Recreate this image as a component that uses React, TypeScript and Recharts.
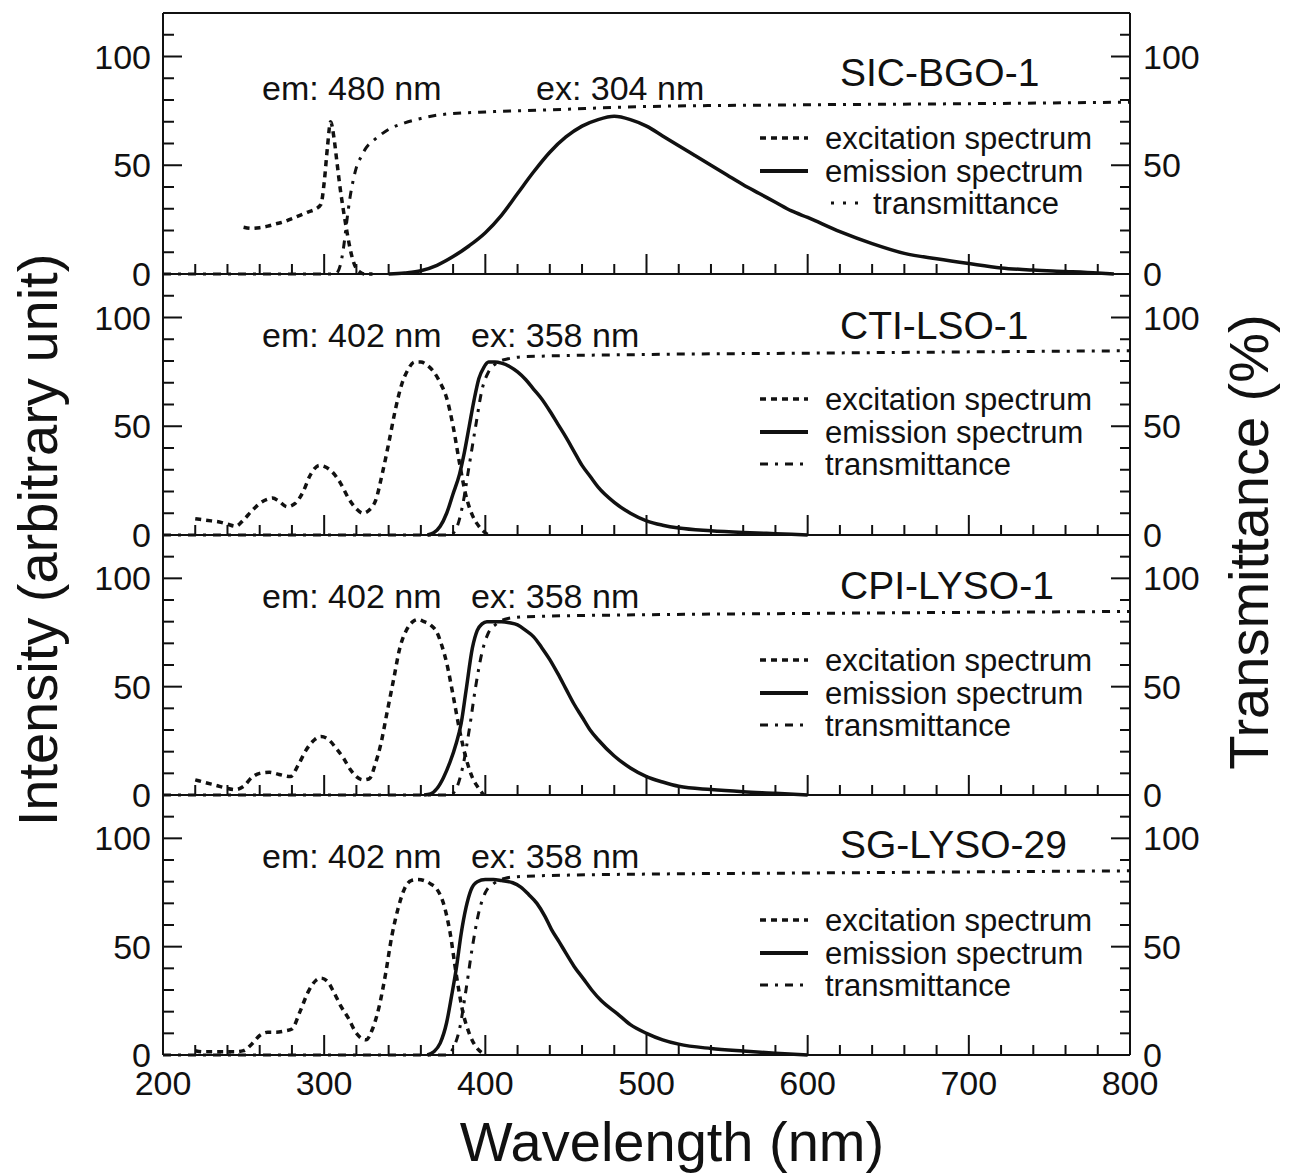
import React from "react";
import { LineChart, Line, XAxis, YAxis } from "recharts";

type Pair = [number, number];

// SIC-BGO-1
const bgoExcitation: Pair[] = [
  [250, 21.5], [255, 21], [260, 21.3], [265, 22], [270, 23], [275, 24], [280, 25.5], [285, 27],
  [290, 28.5], [295, 30], [298, 32], [300, 42], [302, 58], [304, 70], [306, 63], [308, 51],
  [310, 39], [312, 29], [314, 20], [316, 12], [318, 6], [320, 2.5], [322, 1], [325, 0], [330, 0],
];
const bgoEmission: Pair[] = [
  [340, 0], [350, 0.5], [360, 1.5], [370, 4], [380, 8], [390, 13], [400, 19], [410, 27], [420, 37],
  [430, 47], [440, 56], [450, 63], [460, 68], [470, 71], [480, 72.5], [490, 71], [500, 68],
  [510, 63.5], [520, 59], [530, 54.5], [540, 50], [550, 45.5], [560, 41], [570, 37], [580, 33],
  [590, 29], [600, 26], [620, 19.5], [640, 14], [660, 9.5], [680, 7], [700, 4.8], [720, 2.8],
  [740, 1.8], [760, 1.2], [780, 0.5], [790, 0],
];
const bgoTransmittance: Pair[] = [
  [200, 0], [307, 0], [310, 4], [312, 12], [314, 24], [316, 35], [318, 43], [320, 49], [323, 54],
  [326, 58], [330, 61], [335, 64], [340, 66.5], [350, 69.5], [360, 71.5], [370, 73], [385, 74],
  [400, 74.5], [440, 75.5], [500, 77], [600, 77.8], [700, 78.3], [800, 79],
];

// CTI-LSO-1
const ctiExcitation: Pair[] = [
  [220, 7.5], [225, 7], [230, 6.5], [235, 6], [240, 5], [245, 4], [250, 7], [255, 11], [260, 14.5],
  [265, 16.5], [268, 17], [272, 15.5], [277, 13], [282, 14.5], [287, 20], [291, 27], [294, 30.5],
  [297, 32], [300, 31.5], [305, 29], [310, 24], [315, 17], [320, 12], [324, 10], [328, 11.5],
  [332, 16], [336, 28], [340, 42], [344, 57], [348, 69], [352, 76], [356, 79.5], [360, 79.5],
  [364, 78], [368, 75], [372, 70], [376, 63], [380, 50], [384, 33], [388, 18], [392, 9], [396, 4],
  [400, 1], [402, 0],
];
const ctiEmission: Pair[] = [
  [364, 0], [368, 1], [372, 4], [376, 10], [380, 19], [384, 28], [387, 38], [390, 50], [393, 62],
  [396, 72], [399, 77], [402, 79.5], [406, 79.5], [410, 79], [415, 77.5], [420, 75], [425, 71.5],
  [430, 67], [435, 62.5], [440, 57], [445, 51], [450, 45], [455, 38.5], [460, 32], [465, 27],
  [470, 22], [480, 15], [490, 10], [500, 6.5], [510, 4.5], [520, 3.2], [540, 2], [560, 1.2],
  [580, 0.6], [600, 0],
];
const ctiTransmittance: Pair[] = [
  [200, 0], [378, 0], [382, 3], [386, 14], [390, 32], [394, 50], [398, 67], [402, 75], [407, 79],
  [414, 81], [425, 82], [500, 83], [600, 83.6], [700, 84.2], [800, 84.7],
];

// CPI-LYSO-1
const cpiExcitation: Pair[] = [
  [220, 7], [225, 6], [230, 5], [235, 4], [240, 3], [245, 2.5], [250, 4], [255, 8], [260, 10],
  [266, 10.5], [272, 9.5], [279, 8.5], [284, 14], [289, 21], [294, 25.5], [298, 27], [302, 26],
  [308, 21], [312, 17], [316, 12], [320, 8.5], [324, 7], [328, 7.5], [332, 15], [335, 23],
  [339, 38], [343, 53], [347, 68], [351, 76], [355, 80], [358, 81], [362, 80], [366, 78.5],
  [370, 75], [373, 69], [376, 61], [380, 46], [384, 30], [388, 17], [392, 8], [396, 3], [399, 0],
];
const cpiEmission: Pair[] = [
  [362, 0], [366, 0.5], [370, 3], [374, 8], [378, 15], [382, 24], [385, 33], [388, 48], [392, 68],
  [395, 76], [398, 79], [401, 80], [405, 80], [410, 80], [415, 79.5], [420, 78.5], [425, 76],
  [430, 73], [435, 68], [440, 62.5], [445, 56], [450, 49], [455, 42], [460, 36], [465, 30],
  [470, 25.5], [480, 18], [490, 12.5], [500, 8.5], [510, 6], [520, 4], [540, 2.5], [560, 1.5],
  [580, 0.8], [600, 0],
];
const cpiTransmittance: Pair[] = [
  [200, 0], [378, 0], [382, 3], [386, 13], [390, 30], [394, 50], [398, 66], [402, 75], [407, 79],
  [414, 81.5], [425, 82.3], [500, 83.2], [600, 83.8], [700, 84.3], [800, 84.7],
];

// SG-LYSO-29
const sgExcitation: Pair[] = [
  [220, 2], [225, 1.5], [230, 1.5], [235, 1.5], [240, 1.5], [245, 1.5], [250, 2], [255, 5],
  [260, 9], [265, 10.5], [270, 10.5], [275, 11], [280, 12], [285, 20], [290, 29], [295, 34.5],
  [298, 35.5], [302, 34], [306, 29], [310, 23], [315, 17], [320, 10], [326, 7], [330, 12],
  [334, 22], [338, 37], [342, 55], [346, 68], [350, 77], [354, 80.5], [358, 81], [362, 80.5],
  [366, 79], [370, 76.5], [374, 70], [378, 57], [382, 37], [386, 20], [390, 10], [394, 4],
  [398, 1], [400, 0],
];
const sgEmission: Pair[] = [
  [364, 0], [368, 1.5], [372, 5.5], [376, 15], [379, 27], [382, 40], [385, 56], [388, 68],
  [391, 76], [395, 80], [400, 81], [405, 81], [410, 80.5], [417, 79.5], [422, 77.5], [427, 74],
  [432, 70], [437, 64], [441, 58], [446, 52], [450, 47], [455, 41], [461, 35], [466, 30],
  [472, 25], [482, 19], [490, 14], [500, 10], [510, 7], [520, 5], [540, 3], [560, 1.8],
  [580, 0.8], [600, 0],
];
const sgTransmittance: Pair[] = [
  [200, 0], [376, 0], [380, 3], [384, 12], [388, 30], [392, 50], [396, 66], [400, 75], [405, 79],
  [412, 81.5], [420, 82.3], [450, 83], [500, 83.5], [600, 84], [700, 84.5], [800, 85],
];

const panelNames = ["SIC-BGO-1", "CTI-LSO-1", "CPI-LYSO-1", "SG-LYSO-29"];
const emLabels = ["em: 480 nm", "em: 402 nm", "em: 402 nm", "em: 402 nm"];
const exLabels = ["ex: 304 nm", "ex: 358 nm", "ex: 358 nm", "ex: 358 nm"];
const legendLabels = ["excitation spectrum", "emission spectrum", "transmittance"];

const xTicks = [
  200, 220, 240, 260, 280, 300, 320, 340, 360, 380, 400, 420, 440, 460, 480, 500, 520, 540, 560,
  580, 600, 620, 640, 660, 680, 700, 720, 740, 760, 780, 800,
];
const yTicks = [0, 10, 20, 30, 40, 50, 60, 70, 80, 90, 100, 110];

const panels = [
  { excitation: bgoExcitation, emission: bgoEmission, transmittance: bgoTransmittance },
  { excitation: ctiExcitation, emission: ctiEmission, transmittance: ctiTransmittance },
  { excitation: cpiExcitation, emission: cpiEmission, transmittance: cpiTransmittance },
  { excitation: sgExcitation, emission: sgEmission, transmittance: sgTransmittance },
];

const toRows = (pairs: Pair[]) => pairs.map(([x, y]) => ({ x, y }));

// layout
const W = 1296;
const H = 1173;
const PLOT_LEFT = 163;
const PLOT_RIGHT = 1130;
const PANEL_TOPS = [13, 274, 535, 795];
const PLOT_BOTTOM = 1055;
const AXIS_W = 60;
const INK = "#111";
const FONT = "'Liberation Sans', Arial, Helvetica, sans-serif";
const EX_DASH = "6 5";
const TR_DASH = "8 7 3 7";

function LeftTick({ x, y, payload }: any) {
  const v = payload.value;
  const major = v % 50 === 0;
  return (
    <g>
      <line x1={x} x2={x + (major ? 19 : 11)} y1={y} y2={y} stroke={INK} strokeWidth={2} />
      {major && (
        <text x={x - 12} y={y} textAnchor="end" dominantBaseline="central" fontSize={34} fontFamily={FONT} fill={INK}>
          {v}
        </text>
      )}
    </g>
  );
}

function RightTick({ x, y, payload }: any) {
  const v = payload.value;
  const major = v % 50 === 0;
  return (
    <g>
      <line x1={x} x2={x - (major ? 19 : 10)} y1={y} y2={y} stroke={INK} strokeWidth={2} />
      {major && (
        <text x={x + 13} y={y} textAnchor="start" dominantBaseline="central" fontSize={34} fontFamily={FONT} fill={INK}>
          {v}
        </text>
      )}
    </g>
  );
}

function BottomTick({ x, y, payload, showLabel }: any) {
  const v = payload.value;
  const major = v % 100 === 0;
  return (
    <g>
      <line x1={x} x2={x} y1={y} y2={y - (major ? 20 : 10)} stroke={INK} strokeWidth={2} />
      {showLabel && major && (
        <text x={x} y={y + 28} textAnchor="middle" dominantBaseline="central" fontSize={34} fontFamily={FONT} fill={INK}>
          {v}
        </text>
      )}
    </g>
  );
}

function TopTick({ x, y, payload }: any) {
  const major = payload.value % 100 === 0;
  return <line x1={x} x2={x} y1={y} y2={y + (major ? 20 : 10)} stroke={INK} strokeWidth={2} />;
}

function Panel({ index }: { index: number }) {
  const first = index === 0;
  const last = index === PANEL_TOPS.length - 1;
  const top = PANEL_TOPS[index];
  const bottom = last ? PLOT_BOTTOM : PANEL_TOPS[index + 1];
  const topSpace = 30;
  const bottomSpace = last ? 70 : 30;
  const data = panels[index];
  const axisLine = { stroke: INK, strokeWidth: 2 };

  return (
    <div style={{ position: "absolute", left: 0, top: top - topSpace }}>
      <LineChart
        width={W}
        height={bottom - top + topSpace + bottomSpace}
        margin={{
          top: first ? 0 : topSpace,
          bottom: 0,
          left: PLOT_LEFT - AXIS_W,
          right: W - PLOT_RIGHT - AXIS_W,
        }}
      >
        <XAxis
          xAxisId="b"
          type="number"
          dataKey="x"
          domain={[200, 800]}
          ticks={xTicks}
          interval={0}
          height={bottomSpace}
          tickSize={0}
          tickMargin={0}
          tickLine={false}
          axisLine={axisLine}
          tick={(p: any) => <BottomTick {...p} showLabel={last} />}
        />
        {first && (
          <XAxis
            xAxisId="t"
            orientation="top"
            type="number"
            dataKey="x"
            domain={[200, 800]}
            ticks={xTicks}
            interval={0}
            height={topSpace}
            tickSize={0}
            tickMargin={0}
            tickLine={false}
            axisLine={axisLine}
            tick={(p: any) => <TopTick {...p} />}
          />
        )}
        <YAxis
          yAxisId="l"
          type="number"
          domain={[0, 120]}
          ticks={yTicks}
          interval={0}
          width={AXIS_W}
          tickSize={0}
          tickMargin={0}
          tickLine={false}
          axisLine={axisLine}
          tick={(p: any) => <LeftTick {...p} />}
        />
        <YAxis
          yAxisId="r"
          orientation="right"
          type="number"
          domain={[0, 120]}
          ticks={yTicks}
          interval={0}
          width={AXIS_W}
          tickSize={0}
          tickMargin={0}
          tickLine={false}
          axisLine={axisLine}
          tick={(p: any) => <RightTick {...p} />}
        />
        <Line
          xAxisId="b"
          yAxisId="r"
          data={toRows(data.transmittance)}
          dataKey="y"
          type="monotone"
          stroke={INK}
          strokeWidth={3}
          strokeDasharray={TR_DASH}
          dot={false}
          activeDot={false}
          isAnimationActive={false}
        />
        <Line
          xAxisId="b"
          yAxisId="l"
          data={toRows(data.excitation)}
          dataKey="y"
          type="monotone"
          stroke={INK}
          strokeWidth={3.5}
          strokeDasharray={EX_DASH}
          dot={false}
          activeDot={false}
          isAnimationActive={false}
        />
        <Line
          xAxisId="b"
          yAxisId="l"
          data={toRows(data.emission)}
          dataKey="y"
          type="monotone"
          stroke={INK}
          strokeWidth={3.5}
          dot={false}
          activeDot={false}
          isAnimationActive={false}
        />
      </LineChart>
    </div>
  );
}

const EM_OFFSET = [75, 61, 61, 61];
const EX_X = [536, 471, 471, 471];
const NAME_OFFSET = [59, 51, 50, 49];
const LEGEND_OFFSET = [125, 158, 190];

function Overlay() {
  const textProps = { fontFamily: FONT, fill: INK, dominantBaseline: "central" as const };
  return (
    <svg width={W} height={H} style={{ position: "absolute", left: 0, top: 0, pointerEvents: "none" }}>
      {PANEL_TOPS.map((top, i) => (
        <g key={i}>
          <text x={262} y={top + EM_OFFSET[i]} fontSize={34} {...textProps}>{emLabels[i]}</text>
          <text x={EX_X[i]} y={top + EM_OFFSET[i]} fontSize={34} {...textProps}>{exLabels[i]}</text>
          <text x={840} y={top + NAME_OFFSET[i]} fontSize={39} {...textProps}>{panelNames[i]}</text>
          {/* legend */}
          <line x1={760} x2={808} y1={top + LEGEND_OFFSET[0]} y2={top + LEGEND_OFFSET[0]} stroke={INK} strokeWidth={3.5} strokeDasharray={EX_DASH} />
          <line x1={760} x2={808} y1={top + LEGEND_OFFSET[1]} y2={top + LEGEND_OFFSET[1]} stroke={INK} strokeWidth={4} />
          {i === 0 ? (
            <line x1={831} x2={858} y1={top + LEGEND_OFFSET[2]} y2={top + LEGEND_OFFSET[2]} stroke={INK} strokeWidth={3} strokeDasharray="3 9" />
          ) : (
            <line x1={760} x2={808} y1={top + LEGEND_OFFSET[2]} y2={top + LEGEND_OFFSET[2]} stroke={INK} strokeWidth={3} strokeDasharray={TR_DASH} />
          )}
          <text x={825} y={top + LEGEND_OFFSET[0]} fontSize={31} {...textProps}>{legendLabels[0]}</text>
          <text x={825} y={top + LEGEND_OFFSET[1]} fontSize={31} {...textProps}>{legendLabels[1]}</text>
          <text x={i === 0 ? 873 : 825} y={top + LEGEND_OFFSET[2]} fontSize={31} {...textProps}>{legendLabels[2]}</text>
        </g>
      ))}
      <text transform="translate(37,540) rotate(-90)" textAnchor="middle" fontSize={56} {...textProps}>
        Intensity (arbitrary unit)
      </text>
      <text transform="translate(1248,542) rotate(-90)" textAnchor="middle" fontSize={56} {...textProps}>
        Transmittance (%)
      </text>
      <text x={672} y={1141} textAnchor="middle" fontSize={56} {...textProps}>
        Wavelength (nm)
      </text>
    </svg>
  );
}

export default function App() {
  return (
    <div style={{ position: "absolute", left: 0, top: 0, width: W, height: H, background: "#fff" }}>
      {PANEL_TOPS.map((_, i) => (
        <Panel key={i} index={i} />
      ))}
      <Overlay />
    </div>
  );
}
